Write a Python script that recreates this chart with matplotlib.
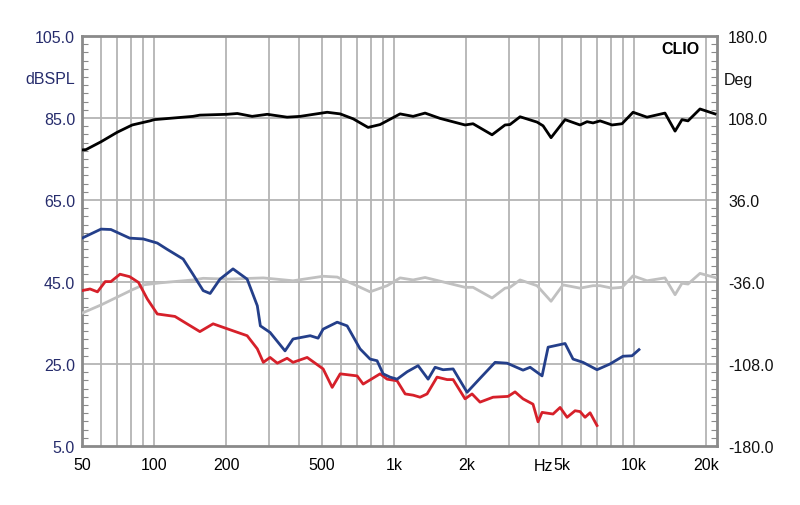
import numpy as np
import matplotlib
matplotlib.use("Agg")
import matplotlib.pyplot as plt
from matplotlib.ticker import FixedLocator, NullFormatter

plt.rcParams['font.family'] = ['Liberation Sans', 'DejaVu Sans']

# frequency response, dBSPL (left axis)
f_black = [50, 52, 60, 70, 79, 81, 96, 100, 145, 155, 201, 222, 256, 296, 358, 406,
           526, 596, 675, 779, 874, 1059, 1200, 1346, 1555, 1976, 2133, 2560, 2900,
           3040, 3350, 3944, 4178, 4510, 5160, 5957, 6370, 6750, 7220, 8100, 8913,
           9910, 11330, 13460, 14830, 15850, 16790, 18840, 21760]
db_black = [77.2, 77.3, 79.2, 81.5, 83.0, 83.3, 84.3, 84.6, 85.4, 85.7, 85.9, 86.1,
            85.4, 85.9, 85.2, 85.4, 86.4, 86.0, 84.8, 82.7, 83.4, 86.0, 85.4, 86.2,
            84.9, 83.3, 83.6, 80.9, 83.3, 83.4, 85.3, 84.0, 83.1, 80.2, 84.6, 83.3,
            84.1, 83.8, 84.3, 83.3, 83.6, 86.4, 85.2, 86.2, 81.8, 84.6, 84.3, 87.2, 86.0]

f_gray = [50, 60, 70, 81, 90, 106, 145, 160, 201, 285, 379, 506, 579, 675, 794,
          935, 1059, 1200, 1346, 1555, 1976, 2133, 2560, 2900, 3040, 3350, 3944,
          4510, 5060, 5957, 6750, 7220, 8100, 8913, 9910, 11330, 13460, 14830,
          15850, 16790, 18840, 21760]
db_gray = [37.4, 39.4, 41.3, 43.1, 44.3, 44.8, 45.5, 45.9, 45.7, 46.0, 45.3, 46.4,
           46.2, 44.5, 42.6, 44.1, 46.0, 45.5, 46.1, 45.2, 43.7, 43.7, 41.1, 43.5,
           43.7, 45.5, 44.1, 40.3, 44.3, 43.5, 44.1, 44.1, 43.5, 43.7, 46.5, 45.3,
           46.0, 41.9, 44.7, 44.5, 47.1, 46.1]

f_blue = [50, 60, 66, 79, 90, 103, 113, 132, 145, 160, 171, 188, 213, 244, 269,
          277, 304, 351, 379, 447, 482, 506, 579, 637, 721, 794, 849, 900, 962,
          1029, 1133, 1259, 1386, 1482, 1600, 1762, 2014, 2281, 2636, 2958, 3447,
          3690, 4138, 4385, 5160, 5570, 6130, 7010, 7940, 9000, 9810, 10490]
db_blue = [55.7, 57.9, 57.8, 55.7, 55.5, 54.5, 53.0, 50.6, 46.9, 42.9, 42.2, 45.7,
           48.2, 45.7, 39.2, 34.3, 32.7, 28.2, 31.1, 31.9, 31.3, 33.5, 35.2, 34.3,
           28.7, 26.2, 25.8, 22.6, 21.8, 21.3, 23.1, 24.6, 21.3, 24.2, 23.6, 23.8,
           18.1, 21.5, 25.4, 25.2, 23.5, 24.2, 22.1, 29.1, 30.0, 26.2, 25.4, 23.6,
           25.0, 26.9, 27.0, 28.5]

f_red = [50, 54, 58, 62.5, 66, 72, 79, 86, 93.5, 103, 122, 137, 155, 176, 213,
         244, 269, 285, 304, 326, 358, 379, 434, 506, 552, 596, 701, 743, 874,
         935, 1029, 1112, 1200, 1283, 1372, 1510, 1663, 1762, 1976, 2113, 2281,
         2585, 2985, 3192, 3447, 3793, 3981, 4138, 4597, 4920, 5260, 5680, 5957,
         6250, 6560, 7010]
db_red = [42.9, 43.3, 42.6, 45.1, 45.1, 46.9, 46.3, 44.9, 40.9, 37.2, 36.6, 34.8,
          32.9, 34.8, 33.1, 31.9, 28.7, 25.4, 26.6, 25.2, 26.4, 25.4, 26.6, 23.8,
          19.3, 22.6, 22.1, 20.1, 22.6, 21.3, 20.9, 17.7, 17.4, 16.9, 17.7, 21.8,
          21.2, 21.2, 16.5, 17.7, 15.7, 16.9, 17.1, 18.2, 16.5, 15.2, 10.9, 13.2,
          12.8, 14.4, 12.0, 13.6, 13.4, 12.0, 13.1, 10.0]

x_ticks = [50, 100, 200, 500, 1000, 2000, 5000, 10000, 20000]
x_labels = ['50', '100', '200', '500', '1k', '2k', '5k', '10k', '20k']
x_grid = [60, 70, 80, 90, 100, 200, 300, 400, 500, 600, 700, 800, 900, 1000,
          2000, 3000, 4000, 5000, 6000, 7000, 8000, 9000, 10000, 20000]
db_ticks = [5, 25, 45, 65, 85, 105]
deg_ticks = [-180, -108, -36, 36, 108, 180]

navy = '#262c6c'
frame = '#8a8a8a'
gridc = '#b4b4b4'

fig = plt.figure(figsize=(8, 5.06), dpi=100)
ax = fig.add_axes([82 / 800, 59 / 506, 635 / 800, 410 / 506])
ax.set_xscale('log')
ax.set_xlim(50, 22180)
ax.set_ylim(5, 105)

for xv in x_grid:
    ax.axvline(xv, color=gridc, lw=1.3, zorder=1)
for yv in db_ticks[1:-1]:
    ax.axhline(yv, color=gridc, lw=1.3, zorder=1)

ax.plot(f_gray, db_gray, color='#c0c0c0', lw=2, zorder=3)
ax.plot(f_red, db_red, color='#d6202a', lw=2, zorder=4)
ax.plot(f_blue, db_blue, color='#243f8a', lw=2, zorder=5)
ax.plot(f_black, db_black, color='black', lw=2, zorder=6)

ax.xaxis.set_major_locator(FixedLocator(x_ticks))
ax.xaxis.set_minor_locator(FixedLocator([]))
ax.set_xticklabels(x_labels)
ax.xaxis.set_minor_formatter(NullFormatter())
ax.tick_params(axis='x', length=0, pad=8, labelsize=11.5, labelcolor='black')

ax.set_yticks(db_ticks)
ax.set_yticklabels(['%.1f' % v for v in db_ticks])
ax.set_yticks(np.arange(5, 105, 2), minor=True)
ax.tick_params(axis='y', which='major', length=0, pad=5, labelsize=11.5, labelcolor=navy)
ax.tick_params(axis='y', which='minor', direction='in', length=4, color=frame, width=0.8)

for s in ax.spines.values():
    s.set_color(frame)
    s.set_linewidth(2)

ax2 = ax.twinx()
ax2.set_ylim(-180, 180)
ax2.set_yticks(deg_ticks)
ax2.set_yticklabels(['%.1f' % v for v in deg_ticks])
ax2.set_yticks(np.arange(-180, 180, 7.2), minor=True)
ax2.tick_params(axis='y', which='major', length=0, pad=8, labelsize=11.5, labelcolor='#111111')
ax2.tick_params(axis='y', which='minor', direction='in', length=4, color=frame, width=0.8)
for s in ax2.spines.values():
    s.set_visible(False)

fig.text(75 / 800, 1 - 80 / 506, 'dBSPL', ha='right', va='center', fontsize=11.5, color=navy)
fig.text(724 / 800, 1 - 80 / 506, 'Deg', ha='left', va='center', fontsize=11.5, color='#111111')
fig.text(700 / 800, 1 - 50 / 506, 'CLIO', ha='right', va='center', fontsize=11.5,
         fontweight='bold', color='black')
fig.text(553 / 800, 1 - 467 / 506, 'Hz', ha='right', va='center', fontsize=11.5, color='black')

fig.savefig('out.png', dpi=100, facecolor='white')
